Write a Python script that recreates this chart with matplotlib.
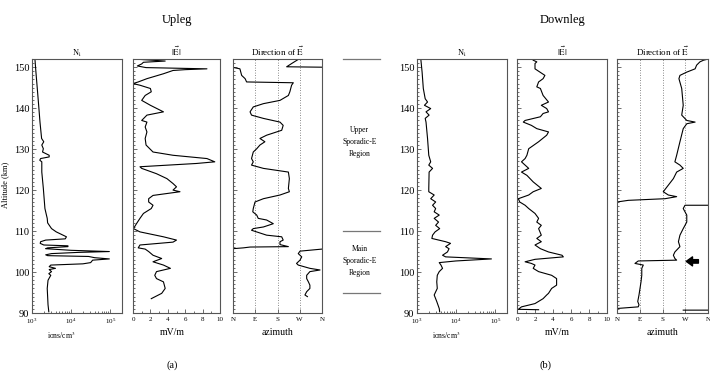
import numpy as np
import matplotlib
matplotlib.use("Agg")
import matplotlib.pyplot as plt
from matplotlib.ticker import (MultipleLocator, FixedLocator, FixedFormatter,
                               LogLocator, LogFormatterMathtext, NullFormatter)

nan = np.nan

# ---- Upleg profiles (altitude in km) ----
UP_NI_ALT = [151.9, 148.8, 144.8, 140.7, 136.6, 132.6, 131.8, 131.0, 130.1, 129.3,
             128.5, 128.1, 127.7, 127.3, 126.9, 124.4, 120.4, 118.0, 115.5, 113.9,
             113.1, 112.0, 110.6, 109.8, 108.6, 108.1, 107.8, 107.4, 107.0, 106.6,
             106.4, 106.2, 105.9, 105.7, 105.3, 105.0, 104.8, 104.5, 104.2, 104.0,
             103.8, 103.5, 103.2, 102.9, 102.3, 102.0, 101.7, 101.3, 100.9, 100.6,
             100.1, 99.6, 99.2, 98.0, 96.0, 94.0, 92.0, 90.3]
UP_NI = [1190, 1260, 1365, 1480, 1600, 1760, 2000, 1780, 1950, 1860,
         2750, 2750, 1660, 1580, 1780, 1780, 1950, 2040, 2140, 2340,
         2450, 2510, 3160, 4170, 7590, 7080, 2240, 1660, 1620, 2000,
         8300, 8300, 2510, 2240, 10000, 95000, 15800, 3160, 2240, 2510,
         28000, 40000, 95000, 35500, 31600, 20000, 3020, 2750, 3980, 2750,
         3160, 2690, 3020, 2570, 2450, 2510, 2570, 2690]

UP_E_ALT = [151.9, 151.5, 151.2, 150.8, 150.3, 149.9, 149.6, 149.4, 149.2, 148.4,
            147.2, 146.4, 146.0, 145.6, 144.8, 144.0, 143.1, 141.9, 140.7, 139.1,
            138.3, 137.0, 136.6, 135.4, 134.2, 132.6, 131.0, 129.3, 128.5, 127.7,
            126.9, 126.5, 125.7, 125.3, 124.0, 122.8, 121.6, 120.8, 120.0, 119.6,
            118.7, 117.9, 117.1, 116.3, 115.5, 114.3, 113.1, 111.8, 110.6, 109.8,
            108.6, 107.8, 107.3, 106.6, 105.9, 105.6, 105.0, 104.1, 103.3, 102.5,
            101.7, 100.9, 100.1, 99.2, 98.4, 97.6, 96.0, 94.8, 93.5]
UP_E = [0.8, 3.7, 1.2, 1.0, 0.5, 1.5, 8.5, 6.0, 4.6, 3.5,
        1.6, 0.6, 0.0, 0.8, 2.0, 2.1, 1.4, 1.0, 2.0, 3.5,
        1.6, 1.0, 1.6, 1.4, 1.6, 1.4, 1.5, 2.3, 4.6, 8.5,
        9.4, 7.3, 0.8, 1.0, 2.7, 3.9, 4.6, 5.0, 4.6, 5.4,
        2.3, 1.8, 1.8, 2.3, 2.1, 1.2, 0.8, 0.4, 0.05, 0.8,
        3.5, 5.0, 4.6, 0.8, 0.6, 1.4, 1.8, 2.3, 3.3, 2.3,
        3.5, 4.3, 2.7, 2.5, 2.7, 3.5, 3.7, 3.3, 2.1]

# nan marks where the azimuth wraps from 360 back to 0
UP_DIR_ALT = [151.9, 151.0, 150.1, 150.0, nan,
              150.0, 149.9, 149.6, 148.0, 147.2, 146.4, 146.2, 145.6, 144.0, 143.1,
              141.9, 141.1, 140.3, 139.1, 138.3, 137.5, 136.6, 135.8, 134.6, 133.4,
              132.6, 131.8, 131.0, 130.1, 129.3, 127.7, 126.9, 126.1, 125.3, 124.4,
              122.8, 120.4, 119.6, 118.8, 117.9, 117.1, 115.5, 114.7, 113.9, 113.1,
              112.7, 111.8, 111.0, 110.6, 110.2, 109.0, 108.6, 107.8, 107.4, 106.7,
              106.2, 106.1, 105.9, 105.7, nan,
              105.6, 105.1, 104.5, 103.7, 102.9, 102.1, 101.7, 100.9, 100.5, 100.1,
              99.2, 98.4, 97.6, 96.8, 96.0, 95.2, 94.4, 94.0]
UP_DIR = [264, 240, 217, 360, nan,
          0, 4, 28, 35, 49, 55, 244, 237, 230, 224,
          190, 123, 82, 69, 75, 123, 190, 203, 197, 136,
          109, 129, 109, 96, 82, 75, 82, 75, 123, 224,
          228, 224, 228, 190, 123, 89, 82, 80, 96, 102,
          136, 163, 123, 82, 75, 136, 197, 203, 190, 190,
          224, 69, 42, 0, nan,
          360, 271, 264, 278, 271, 257, 264, 311, 352, 311,
          298, 298, 305, 311, 311, 298, 291, 301]

# ---- Downleg profiles ----
DOWN_NI_ALT = [151.7, 148.8, 144.8, 142.3, 141.5, 140.7, 139.9, 139.1, 138.3, 137.5,
               136.6, 132.6, 128.5, 126.9, 126.1, 125.3, 124.4, 120.4, 119.6, 118.8,
               117.9, 117.1, 116.3, 115.5, 114.7, 113.9, 113.1, 112.2, 111.4, 110.6,
               109.8, 109.0, 108.2, 107.4, 107.0, 106.2, 105.7, 104.9, 104.1, 103.7,
               103.2, 102.7, 102.3, 101.7, 100.9, 100.1, 99.2, 97.6, 96.0, 94.4,
               92.8, 91.1, 90.3]
DOWN_NI = [1260, 1350, 1450, 1620, 1860, 1550, 2240, 1700, 2040, 1620,
           1700, 1860, 2000, 2240, 2000, 2500, 2040, 2000, 2000, 2750,
           2240, 3000, 2500, 3000, 2750, 3700, 2750, 3550, 3000, 3800,
           2900, 2500, 2400, 5400, 7200, 5400, 6600, 6000, 4500, 5400,
           80000, 9800, 3700, 4100, 4500, 3700, 3300, 3200, 3300, 2750,
           3200, 3700, 3800]

DOWN_E_ALT = [151.7, 151.3, 150.9, 149.6, 148.0, 147.2, 146.4, 145.2, 144.8, 143.1,
              141.5, 140.7, 139.9, 139.1, 138.7, 137.9, 137.0, 136.6, 135.8, 135.0,
              134.2, 133.4, 131.8, 130.1, 128.5, 127.7, 126.9, 126.1, 125.3, 124.4,
              123.6, 122.0, 120.4, 119.6, 118.8, 117.9, 117.1, 116.3, 115.5, 114.3,
              113.1, 112.2, 111.4, 110.6, 109.0, 108.2, 107.4, 106.6, 105.7, 104.9,
              104.1, 103.7, 103.1, 102.5, 102.1, 101.7, 100.9, 100.1, 99.2, 98.4,
              96.8, 96.0, 94.8, 94.4, 93.5, 92.3, 91.5, 90.9, 90.8]
DOWN_E = [1.8, 2.2, 2.0, 2.0, 3.1, 2.9, 2.4, 2.2, 2.6, 2.9,
          3.5, 2.7, 3.3, 3.5, 2.9, 2.6, 0.9, 0.7, 1.6, 2.2,
          3.5, 3.3, 2.4, 1.3, 1.1, 0.9, 0.5, 0.9, 1.3, 0.5,
          1.1, 1.8, 2.7, 1.8, 1.3, 0.15, 0.3, 0.9, 1.3, 2.0,
          2.4, 2.2, 2.7, 2.4, 2.7, 2.2, 2.7, 2.0, 2.6, 3.5,
          5.0, 5.15, 2.0, 0.9, 1.6, 2.0, 1.8, 2.4, 3.85, 4.4,
          4.4, 3.85, 3.5, 3.3, 2.9, 2.0, 0.5, 0.15, 2.4]

DOWN_DIR_ALT = [151.9, 151.7, 151.3, 150.5, 149.6, 148.8, 148.0, 147.2, 144.8, 140.7,
                138.3, 137.0, 136.6, 136.2, 135.0, 131.8, 128.5, 126.9, 126.1, 125.3,
                124.4, 122.8, 121.2, 119.6, 118.8, 118.4, 117.9, 117.5, 117.1, nan,
                116.3, 116.3, 115.5, 113.9, 112.2, 110.6, 109.0, 107.4, 106.2, 104.9,
                104.1, 103.3, 102.9, 102.7, 102.1, 101.7, 100.9, 99.2, 97.6, 96.0,
                94.4, 92.8, 92.0, 91.5, 91.1, nan,
                90.7, 90.7]
DOWN_DIR = [355, 342, 328, 315, 309, 276, 249, 245, 256, 262,
            256, 276, 309, 276, 262, 249, 236, 229, 249, 262,
            236, 223, 203, 183, 203, 236, 190, 45, 0, nan,
            360, 269, 262, 276, 276, 262, 249, 243, 249, 229,
            223, 229, 236, 84, 71, 104, 98, 98, 95, 91,
            87, 82, 87, 84, 0, nan,
            360, 262]

ALT_TICKS = [90, 100, 110, 120, 130, 140, 150]
E_TICKS = [0, 2, 4, 6, 8, 10]
AZ_TICKS = [0, 90, 180, 270, 360]
AZ_LABELS = ["N", "E", "S", "W", "N"]
AZ_GUIDES = [90, 180, 270]

REGION_BOUNDS = [152, 110, 95]
REGION_LABELS = ["Upper\nSporadic-E\nRegion", "Main\nSporadic-E\nRegion"]
REGION_LABEL_ALT = [131.8, 102.7]

ARROW_ALT = 102.6
ARROW_FROM, ARROW_TO = 322, 274

plt.rcParams["font.family"] = ["Liberation Serif", "DejaVu Serif"]
plt.rcParams["mathtext.fontset"] = "stix"

W, H = 710, 377
TOP, BOTTOM = 59, 313
SPINE = "#555555"


def frac_rect(x0, x1):
    return [x0 / W, 1 - BOTTOM / H, (x1 - x0) / W, (BOTTOM - TOP) / H]


def style_axis(ax, show_ylabels):
    ax.set_ylim(90, 152)
    ax.yaxis.set_major_locator(FixedLocator(ALT_TICKS))
    ax.yaxis.set_minor_locator(MultipleLocator(1))
    ax.tick_params(which="both", direction="in", top=False, right=False,
                   color=SPINE, width=0.6)
    ax.tick_params(which="major", length=3)
    ax.tick_params(which="minor", length=1.6)
    ax.tick_params(axis="y", labelsize=7.5, labelleft=show_ylabels, pad=2)
    ax.tick_params(axis="x", labelsize=5, pad=3)
    for sp in ax.spines.values():
        sp.set_color(SPINE)
        sp.set_linewidth(0.8)


def plot_ni(ax, alt, ni, show_ylabels):
    ax.plot(ni, alt, color="k", lw=0.8)
    ax.set_xscale("log")
    ax.set_xlim(1e3, 2e5)
    ax.xaxis.set_major_locator(LogLocator(base=10, numticks=5))
    ax.xaxis.set_major_formatter(LogFormatterMathtext())
    ax.xaxis.set_minor_locator(LogLocator(base=10, subs=np.arange(2, 10), numticks=10))
    ax.xaxis.set_minor_formatter(NullFormatter())
    style_axis(ax, show_ylabels)
    ax.set_title(r"N$_{\rm i}$", fontsize=6, pad=2)
    ax.set_xlabel(r"ions/cm$^3$", fontsize=5.5)
    ax.xaxis.set_label_coords(0.33, -0.065)


def plot_efield(ax, alt, e):
    ax.plot(e, alt, color="k", lw=0.8)
    ax.set_xlim(0, 10)
    ax.xaxis.set_major_locator(FixedLocator(E_TICKS))
    ax.xaxis.set_minor_locator(MultipleLocator(1))
    style_axis(ax, False)
    ax.set_title(r"$|\vec{\rm E}|$", fontsize=6.5, pad=2)
    ax.set_xlabel("mV/m", fontsize=7)
    ax.xaxis.set_label_coords(0.45, -0.06)


def plot_direction(ax, alt, az):
    for g in AZ_GUIDES:
        ax.axvline(g, color="#666666", ls=(0, (1, 2)), lw=0.6)
    ax.plot(az, alt, color="k", lw=0.8)
    ax.set_xlim(0, 360)
    ax.xaxis.set_major_locator(FixedLocator(AZ_TICKS))
    ax.xaxis.set_major_formatter(FixedFormatter(AZ_LABELS))
    style_axis(ax, False)
    ax.set_title(r"Direction of $\vec{\rm E}$", fontsize=6.5, pad=2)
    ax.set_xlabel("azimuth", fontsize=7)
    ax.xaxis.set_label_coords(0.5, -0.06)


def plot_regions(ax):
    ax.set_ylim(90, 152)
    ax.set_xlim(0, 1)
    ax.axis("off")
    for b in REGION_BOUNDS:
        ax.axhline(b, color="#777777", lw=0.9, clip_on=False)
    for label, y in zip(REGION_LABELS, REGION_LABEL_ALT):
        ax.text(0.45, y, label, ha="center", va="center", fontsize=5.5,
                linespacing=1.7)


def main():
    fig = plt.figure(figsize=(W / 100, H / 100), dpi=100)

    ax = fig.add_axes(frac_rect(32, 122))
    plot_ni(ax, UP_NI_ALT, UP_NI, True)
    ax = fig.add_axes(frac_rect(133, 220))
    plot_efield(ax, UP_E_ALT, UP_E)
    ax = fig.add_axes(frac_rect(233, 322))
    plot_direction(ax, UP_DIR_ALT, UP_DIR)

    plot_regions(fig.add_axes(frac_rect(343, 380)))

    ax = fig.add_axes(frac_rect(417, 507))
    plot_ni(ax, DOWN_NI_ALT, DOWN_NI, True)
    ax = fig.add_axes(frac_rect(517, 607))
    plot_efield(ax, DOWN_E_ALT, DOWN_E)
    ax = fig.add_axes(frac_rect(617, 708))
    plot_direction(ax, DOWN_DIR_ALT, DOWN_DIR)
    ax.annotate("", xy=(ARROW_TO, ARROW_ALT), xytext=(ARROW_FROM, ARROW_ALT),
                arrowprops=dict(arrowstyle="simple,head_length=0.45,head_width=0.65,tail_width=0.25",
                                color="k", shrinkA=0, shrinkB=0))

    fig.text(5 / W, 1 - 185 / H, "Altitude (km)", rotation=90, ha="center",
             va="center", fontsize=6)
    fig.text(177 / W, 1 - 20 / H, "Upleg", ha="center", va="center", fontsize=9)
    fig.text(563 / W, 1 - 20 / H, "Downleg", ha="center", va="center", fontsize=9)
    fig.text(172 / W, 1 - 365 / H, "(a)", ha="center", va="center", fontsize=7.5)
    fig.text(545 / W, 1 - 365 / H, "(b)", ha="center", va="center", fontsize=7.5)

    fig.savefig("out.png", dpi=100)


if __name__ == "__main__":
    main()
